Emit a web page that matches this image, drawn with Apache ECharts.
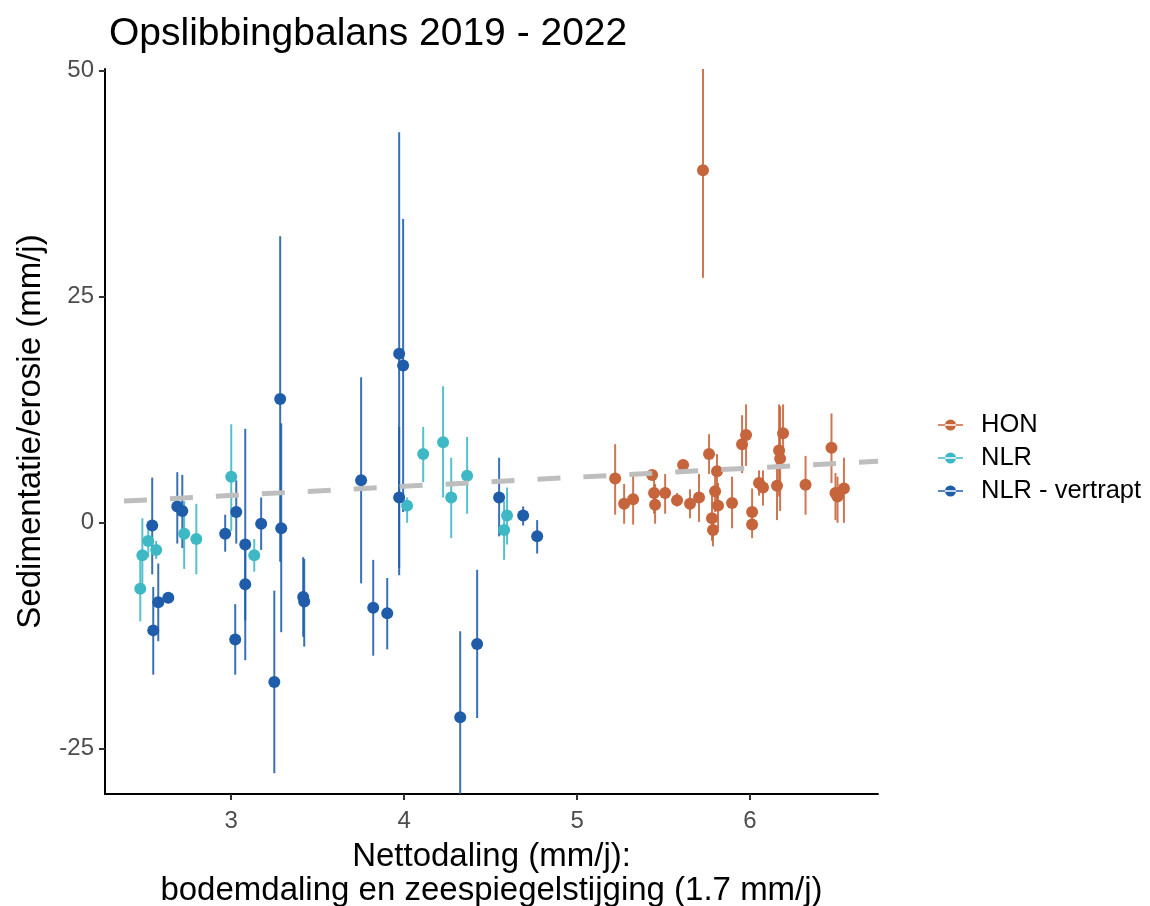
<!DOCTYPE html>
<html>
<head>
<meta charset="utf-8">
<script src="https://cdn.jsdelivr.net/npm/echarts@6/dist/echarts.min.js"></script>
<style>
html,body{margin:0;padding:0;background:#fff;overflow:hidden;}
#c{width:1150px;height:906px;}
</style>
</head>
<body>
<div id="c"></div>
<script>
// ---- data ----
const seriesNames = ['HON', 'NLR', 'NLR - vertrapt'];

const hon_x  = [5.220, 5.272, 5.324, 5.434, 5.445, 5.451, 5.509, 5.578, 5.613, 5.653, 5.705, 5.763, 5.809, 5.798, 5.815, 5.780, 5.786, 5.896, 5.954, 5.977, 6.012, 6.012, 6.052, 6.075, 6.156, 6.168, 6.174, 6.191, 6.321, 6.471, 6.494, 6.506, 6.543, 5.728];
const hon_y  = [4.9, 2.1, 2.6, 5.3, 3.3, 2.0, 3.3, 2.5, 6.4, 2.1, 2.8, 7.6, 5.7, 3.5, 1.9, 0.5, -0.8, 2.2, 8.7, 9.7, 1.2, -0.2, 4.4, 3.9, 4.1, 8.0, 7.1, 9.9, 4.2, 8.3, 3.3, 2.9, 3.8, 39.0];
const hon_lo = [0.9, -0.1, -0.2, 4.8, 1.0, -0.1, 1.0, 1.8, 6.4, 0.5, 0.1, 5.4, 2.0, 1.2, -0.6, -2.0, -2.6, -0.6, 5.5, 6.3, -0.4, -1.7, 3.0, 1.9, 0.3, 2.9, 1.3, 6.7, 0.9, 4.4, 0.3, 0.0, 0.0, 27.1];
const hon_hi = [8.7, 4.3, 5.5, 5.8, 5.3, 4.3, 5.4, 3.3, 6.4, 3.7, 5.4, 9.8, 7.6, 5.8, 4.4, 3.0, 1.0, 5.1, 11.9, 13.1, 3.8, 1.2, 5.8, 5.8, 7.4, 13.1, 12.9, 13.1, 7.4, 12.1, 5.5, 5.1, 7.2, 50.9];

const nlr_x  = [2.474, 2.486, 2.520, 2.566, 2.728, 2.798, 3.000, 3.133, 4.017, 4.110, 4.225, 4.272, 4.364, 4.578, 4.595];
const nlr_y  = [-7.3, -3.6, -2.0, -3.0, -1.2, -1.8, 5.1, -3.6, 1.9, 7.6, 8.9, 2.8, 5.2, -0.8, 0.8];
const nlr_lo = [-10.9, -7.7, -3.8, -4.0, -5.1, -5.7, -0.9, -5.4, 0.0, 4.5, 2.8, -1.7, 1.0, -4.1, -2.4];
const nlr_hi = [-3.7, 0.5, -0.4, -2.0, 2.4, 2.1, 10.9, -1.8, 2.8, 10.6, 15.1, 7.2, 9.5, 2.4, 3.9];

const vtr_x  = [2.543, 2.549, 2.578, 2.636, 2.688, 2.717, 2.965, 3.029, 3.023, 3.081, 3.081, 3.173, 3.249, 3.283, 3.289, 3.416, 3.422, 3.751, 3.821, 3.902, 3.971, 3.971, 3.994, 4.324, 4.422, 4.549, 4.688, 4.769];
const vtr_y  = [-0.3, -11.9, -8.8, -8.3, 1.8, 1.3, -1.2, 1.2, -12.9, -2.4, -6.8, -0.1, -17.6, 13.7, -0.6, -8.2, -8.7, 4.7, -9.4, -10.0, 2.8, 18.7, 17.4, -21.5, -13.4, 2.8, 0.8, -1.5];
const vtr_lo = [-5.7, -16.8, -13.1, -8.3, -2.3, -2.8, -3.2, -2.3, -16.8, -15.2, -10.8, -3.0, -27.7, -4.3, -12.1, -12.6, -13.7, -6.7, -14.7, -14.0, -5.0, -5.8, 1.2, -31.0, -21.6, -1.5, -0.3, -3.4];
const vtr_hi = [5.0, -7.1, -4.5, -8.3, 5.6, 5.3, 0.9, 4.7, -9.0, 10.4, -2.8, 2.8, -7.5, 31.7, 11.0, -3.8, -4.0, 16.1, -4.1, -6.1, 10.6, 43.2, 33.6, -12.0, -5.2, 7.2, 1.8, 0.3];

const trend_x = [2.38, 6.74];
const trend_y = [2.4, 6.8];

const xTicks = [3, 4, 5, 6];
const yTicks = [-25, 0, 25, 50];

const colors = ['#C6643B', '#3FB8C6', '#1F5DAA'];
const FONT = '"Liberation Sans", Arial, Helvetica, sans-serif';

// ---- build ----
function pts(xs, ys) { return xs.map((x, i) => [x, ys[i]]); }
function bars(xs, lo, hi) { return xs.map((x, i) => [x, lo[i], hi[i]]); }

const X_MIN = 2.27, X_MAX = 6.74, Y_MIN = -30, Y_MAX = 50.2;

function errRender(params, api) {
  const x = api.value(0);
  const lo = Math.max(api.value(1), Y_MIN);
  const hi = Math.min(api.value(2), Y_MAX);
  const p1 = api.coord([x, lo]);
  const p2 = api.coord([x, hi]);
  return {
    type: 'line',
    shape: { x1: p1[0], y1: p1[1], x2: p2[0], y2: p2[1] },
    style: { stroke: api.visual('color'), lineWidth: 2, opacity: 0.88 }
  };
}

const groups = [
  [hon_x, hon_y, hon_lo, hon_hi],
  [nlr_x, nlr_y, nlr_lo, nlr_hi],
  [vtr_x, vtr_y, vtr_lo, vtr_hi]
];

const series = [];
groups.forEach((g, i) => {
  series.push({
    name: seriesNames[i], type: 'custom', renderItem: errRender,
    data: bars(g[0], g[2], g[3]), encode: { x: 0, y: [1, 2] },
    itemStyle: { color: colors[i] }, clip: true, z: 1, silent: true
  });
});
groups.forEach((g, i) => {
  series.push({
    name: seriesNames[i], type: 'scatter', data: pts(g[0], g[1]),
    symbol: 'circle', symbolSize: 12,
    itemStyle: { color: colors[i], opacity: 1 }, z: 2, silent: true
  });
});
series.push({
  name: 'trend', type: 'line', data: pts(trend_x, trend_y), showSymbol: false,
  lineStyle: { color: '#BEBEBE', width: 5, type: [23, 23], cap: 'butt' },
  z: 3, silent: true
});

const keyIcon = 'path://M0,5.2H25V6.8H0Z M7,6A5.5,5.5 0 1 0 18,6A5.5,5.5 0 1 0 7,6Z';

const option = {
  animation: false,
  backgroundColor: '#fff',
  textStyle: { fontFamily: FONT },
  title: {
    text: 'Opslibbingbalans 2019 - 2022',
    left: 104, top: 10,
    textStyle: { fontFamily: FONT, fontSize: 39, fontWeight: 'normal', color: '#000' }
  },
  legend: {
    orient: 'vertical', left: 933, top: 407, itemGap: 7,
    itemWidth: 25, itemHeight: 11,
    data: seriesNames.map(n => ({ name: n, icon: keyIcon })),
    textStyle: { fontFamily: FONT, fontSize: 25.5, lineHeight: 26, color: '#000', padding: [0, 0, 0, 13] }
  },
  grid: { left: 105, width: 773, top: 69, height: 725, containLabel: false, outerBoundsMode: 'none' },
  xAxis: {
    type: 'value', min: X_MIN, max: X_MAX,
    name: 'Nettodaling (mm/j):\nbodemdaling en zeespiegelstijging (1.7 mm/j)',
    nameLocation: 'middle', nameGap: 46,
    nameTextStyle: { fontFamily: FONT, fontSize: 33, color: '#000', lineHeight: 34 },
    axisLine: { show: true, onZero: false, lineStyle: { color: '#000', width: 2 } },
    axisTick: { show: true, length: 6, customValues: xTicks, lineStyle: { color: '#333', width: 2 } },
    axisLabel: { customValues: xTicks, margin: 15, fontSize: 24, color: '#4D4D4D', fontFamily: FONT },
    splitLine: { show: false }
  },
  yAxis: {
    type: 'value', min: Y_MIN, max: Y_MAX,
    name: 'Sedimentatie/erosie (mm/j)',
    nameLocation: 'middle', nameGap: 58, nameRotate: 90,
    nameTextStyle: { fontFamily: FONT, fontSize: 33, color: '#000' },
    axisLine: { show: true, onZero: false, lineStyle: { color: '#000', width: 2 } },
    axisTick: { show: true, length: 6, customValues: yTicks, lineStyle: { color: '#333', width: 2 } },
    axisLabel: { customValues: yTicks, margin: 11, fontSize: 24, color: '#4D4D4D', fontFamily: FONT },
    splitLine: { show: false }
  },
  series: series
};

const chart = echarts.init(document.getElementById('c'), null, { renderer: 'canvas' });
chart.setOption(option);
</script>
</body>
</html>
